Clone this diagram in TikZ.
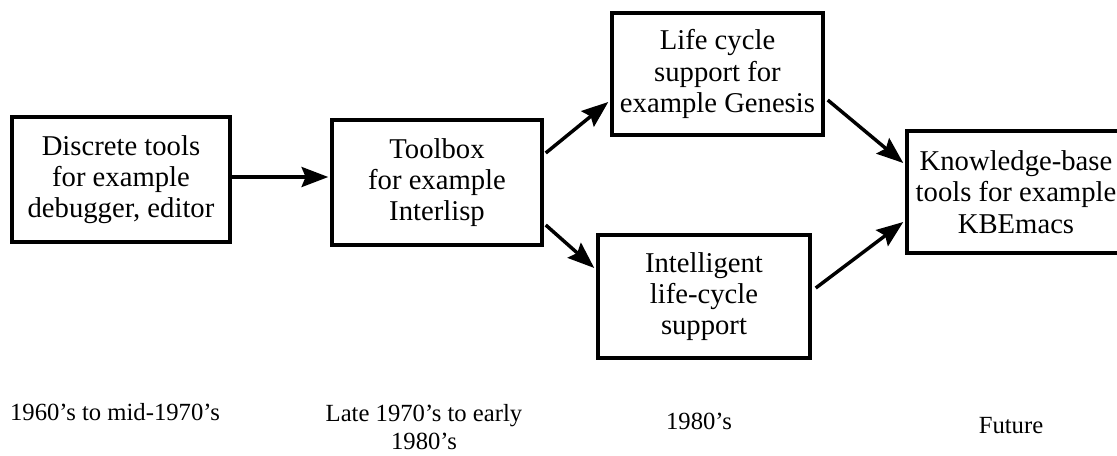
\documentclass[tikz,border=0pt]{standalone}
\usepackage{fontspec}
\setmainfont{Liberation Serif}
\usetikzlibrary{arrows.meta,calc}
\begin{document}
\begin{tikzpicture}[x=0.75pt,y=-0.75pt,
  box/.style={draw=black,line width=2.6pt,align=center,inner sep=0pt,
    font=\fontsize{21.5}{23.5}\selectfont},
  arr/.style={line width=2.6pt,-{Stealth[length=20pt,width=15pt,inset=3pt]}},
  era/.style={align=center,inner sep=0pt,font=\fontsize{18.5}{21.5}\selectfont}]
\useasboundingbox (0,0) rectangle (1117,455);
\fill[white] (0,0) rectangle (1117,455);
\node[box,minimum width=218*0.75pt,minimum height=125*0.75pt] (b1) at (121,179.5)
  {Discrete tools\\for example\\debugger, editor};
\node[box,minimum width=210*0.75pt,minimum height=125*0.75pt] (b2) at (437,182.5)
  {Toolbox\\for example\\Interlisp};
\node[box,minimum width=211*0.75pt,minimum height=122*0.75pt] (b3) at (717.5,74)
  {Life cycle\\support for\\example Genesis};
\node[box,minimum width=212*0.75pt,minimum height=123*0.75pt] (b4) at (704,296.5)
  {Intelligent\\life-cycle\\support};
\node[box,minimum width=218*0.75pt,minimum height=122*0.75pt] (b5) at (1016,192)
  {Knowledge-base\\tools for example\\KBEmacs};
\draw[arr] ($(b1.east)+(0,-2.5)$) -- ($(b2.west)+(-2,-5.5)$);
\draw[arr] ($(b2.east)+(2,-29.5)$) -- ($(b3.west)+(-2,28)$);
\draw[arr] ($(b2.east)+(2,42.5)$) -- ($(b4.west)+(-2,-28.5)$);
\draw[arr] ($(b3.east)+(3,26)$) -- ($(b5.west)+(-2,-29)$);
\draw[arr] ($(b4.east)+(4,-8.5)$) -- ($(b5.west)+(-2,30)$);
\node[era] (l1) at (115,412) {1960’s to mid-1970’s};
\node[era] (l2) at (424,427) {Late 1970’s to early\\1980’s};
\node[era] (l3) at (699,421) {1980’s};
\node[era] (l4) at (1011,426) {Future};
\end{tikzpicture}
\end{document}
